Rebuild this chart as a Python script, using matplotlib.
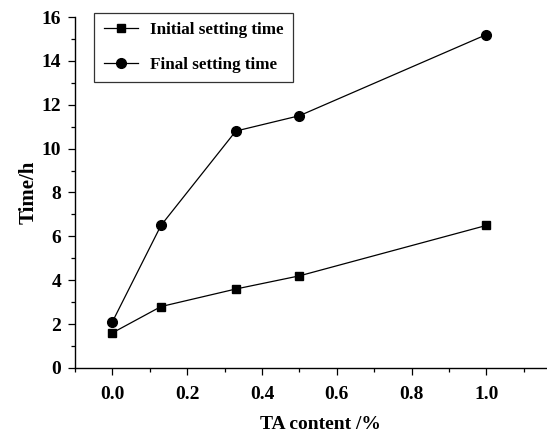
import numpy as np
import matplotlib
matplotlib.use('Agg')
from matplotlib import pyplot as plt
from matplotlib.ticker import MultipleLocator

# TA content (%) and setting times (h)
ta_content = [0.0, 0.13, 0.33, 0.5, 1.0]
initial_setting = [1.6, 2.8, 3.6, 4.2, 6.5]
final_setting = [2.1, 6.5, 10.8, 11.5, 15.2]

plt.rcParams['font.family'] = ['Liberation Serif', 'DejaVu Serif']
plt.rcParams['font.weight'] = 'bold'

fig = plt.figure(figsize=(5.47, 4.36), dpi=100)
# axes run past the right edge, as in the cropped original
ax = fig.add_axes([0.137, 0.156, 0.896, 0.805])

ax.plot(ta_content, initial_setting, color='black', lw=0.9,
        marker='s', ms=6, label='Initial setting time')
ax.plot(ta_content, final_setting, color='black', lw=0.9,
        marker='o', ms=7, label='Final setting time')

ax.set_xlim(-0.1, 1.21)
ax.set_ylim(0, 16)
ax.xaxis.set_minor_locator(MultipleLocator(0.1))
ax.yaxis.set_major_locator(MultipleLocator(2))
ax.yaxis.set_minor_locator(MultipleLocator(1))
ax.set_xticks([0.0, 0.2, 0.4, 0.6, 0.8, 1.0])
ax.set_xticklabels(['0.0', '0.2', '0.4', '0.6', '0.8', '1.0'])

for s in ['top', 'right']:
    ax.spines[s].set_visible(False)
for s in ['left', 'bottom']:
    ax.spines[s].set_linewidth(1.0)

ax.tick_params(which='both', direction='out', labelsize=14, width=0.9)
ax.tick_params(which='major', length=5)
ax.tick_params(which='minor', length=3)
ax.tick_params(axis='y', pad=5)
ax.tick_params(axis='x', pad=8)

ax.set_xlabel('TA content /%', fontsize=14, fontweight='bold', labelpad=9)
ax.set_ylabel('Time/h', fontsize=15, fontweight='bold', labelpad=2)

leg = ax.legend(loc='upper left', bbox_to_anchor=(0.022, 1.037), fontsize=12.3,
                frameon=True, fancybox=False, edgecolor='black',
                handlelength=2.0, handletextpad=0.7, borderpad=0.55,
                labelspacing=1.1)
leg.get_frame().set_linewidth(0.9)

fig.savefig('out.png', dpi=100)
